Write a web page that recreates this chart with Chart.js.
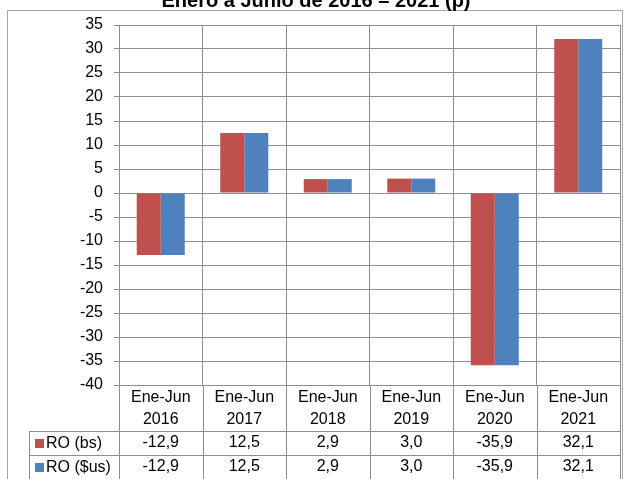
<!DOCTYPE html>
<html>
<head>
<meta charset="utf-8">
<script src="https://cdn.jsdelivr.net/npm/chart.js@4.4.0/dist/chart.umd.min.js"></script>
<style>
  html, body { margin: 0; padding: 0; background: #fff; }
  #wrap { width: 624px; height: 479px; overflow: hidden; }
</style>
</head>
<body>
<div id="wrap"><canvas id="chart" width="624" height="479"></canvas></div>
<script>
// values
const title = 'Enero a Junio de 2016 – 2021 (p)';
const periods = ['Ene-Jun', 'Ene-Jun', 'Ene-Jun', 'Ene-Jun', 'Ene-Jun', 'Ene-Jun'];
const years = ['2016', '2017', '2018', '2019', '2020', '2021'];
const roBs = [-12.9, 12.5, 2.9, 3.0, -35.9, 32.1];
const roUs = [-12.9, 12.5, 2.9, 3.0, -35.9, 32.1];
const yTicks = [35, 30, 25, 20, 15, 10, 5, 0, -5, -10, -15, -20, -25, -30, -35, -40];

const RED = '#C0504D';
const BLUE = '#4F81BD';
const GRID = '#8c8c8c';
const FONT = 'Arial, "Liberation Sans", sans-serif';

const fmt = v => v.toFixed(1).replace('.', ',');

// title (cut at the top), outer frame and the data table under the axis
const tablePlugin = {
  id: 'dataTable',
  beforeDraw(chart) {
    const ctx = chart.ctx;
    ctx.save();
    ctx.strokeStyle = '#a6a6a6';
    ctx.lineWidth = 1;
    ctx.strokeRect(7.5, 10.5, 615, 520);
    ctx.fillStyle = '#000';
    ctx.font = 'bold 20px ' + FONT;
    ctx.textAlign = 'center';
    ctx.textBaseline = 'alphabetic';
    ctx.fillText(title, 316, 7);
    ctx.restore();
  },
  afterDraw(chart) {
    const ctx = chart.ctx;
    const x = chart.scales.x;
    const area = chart.chartArea;
    const n = years.length;
    const step = (area.right - area.left) / n;
    const row1 = area.bottom + 46, row2 = row1 + 24, row3 = row2 + 24;
    const tableLeft = 29.5;

    ctx.save();
    ctx.strokeStyle = GRID;
    ctx.lineWidth = 1;
    ctx.beginPath();
    for (let i = 0; i <= n; i++) {
      const px = Math.round(area.left + i * step) + 0.5;
      ctx.moveTo(px, area.bottom);
      ctx.lineTo(px, 479);
    }
    ctx.moveTo(tableLeft, row1 + 0.5); ctx.lineTo(area.right, row1 + 0.5);
    ctx.moveTo(tableLeft, row2 + 0.5); ctx.lineTo(area.right, row2 + 0.5);
    ctx.moveTo(tableLeft, row3 + 0.5); ctx.lineTo(area.right, row3 + 0.5);
    ctx.moveTo(tableLeft, row1); ctx.lineTo(tableLeft, 479);
    ctx.stroke();

    ctx.fillStyle = '#000';
    ctx.font = '16px ' + FONT;
    ctx.textAlign = 'center';
    ctx.textBaseline = 'middle';
    for (let i = 0; i < n; i++) {
      const cx = x.getPixelForValue(i);
      ctx.fillText(periods[i], cx, area.bottom + 13);
      ctx.fillText(years[i], cx, area.bottom + 35);
      ctx.fillText(fmt(roBs[i]), cx, row1 + 12);
      ctx.fillText(fmt(roUs[i]), cx, row2 + 12);
    }

    const rows = [
      { label: chart.data.datasets[0].label, color: RED, y: row1 + 12 },
      { label: chart.data.datasets[1].label, color: BLUE, y: row2 + 12 }
    ];
    ctx.textAlign = 'left';
    rows.forEach(r => {
      ctx.fillStyle = r.color;
      ctx.fillRect(35, Math.round(r.y) - 4, 9, 9);
      ctx.fillStyle = '#000';
      ctx.fillText(r.label, 46, r.y + 1);
    });
    ctx.restore();
  }
};

new Chart(document.getElementById('chart'), {
  type: 'bar',
  data: {
    labels: years,
    datasets: [
      { label: 'RO (bs)', data: roBs, backgroundColor: RED },
      { label: 'RO ($us)', data: roUs, backgroundColor: BLUE }
    ]
  },
  options: {
    responsive: false,
    animation: false,
    devicePixelRatio: 1,
    layout: { padding: { left: 8, top: 25, right: 4, bottom: 0 } },
    datasets: {
      bar: { categoryPercentage: 0.575, barPercentage: 1.0 }
    },
    plugins: {
      legend: { display: false },
      tooltip: { enabled: false },
      title: { display: false }
    },
    scales: {
      x: {
        ticks: { display: false },
        grid: { color: GRID, drawTicks: false, offset: true },
        border: { color: GRID },
        afterFit(scale) { scale.height = 94; }
      },
      y: {
        min: -40,
        max: 35,
        afterBuildTicks(scale) { scale.ticks = yTicks.map(v => ({ value: v })); },
        ticks: {
          color: '#000',
          font: { family: FONT, size: 16 },
          padding: 11,
          callback: v => String(v)
        },
        grid: { color: GRID, tickLength: 5 },
        border: { color: GRID },
        afterFit(scale) { scale.width = 111; }
      }
    }
  },
  plugins: [tablePlugin]
});
</script>
</body>
</html>
